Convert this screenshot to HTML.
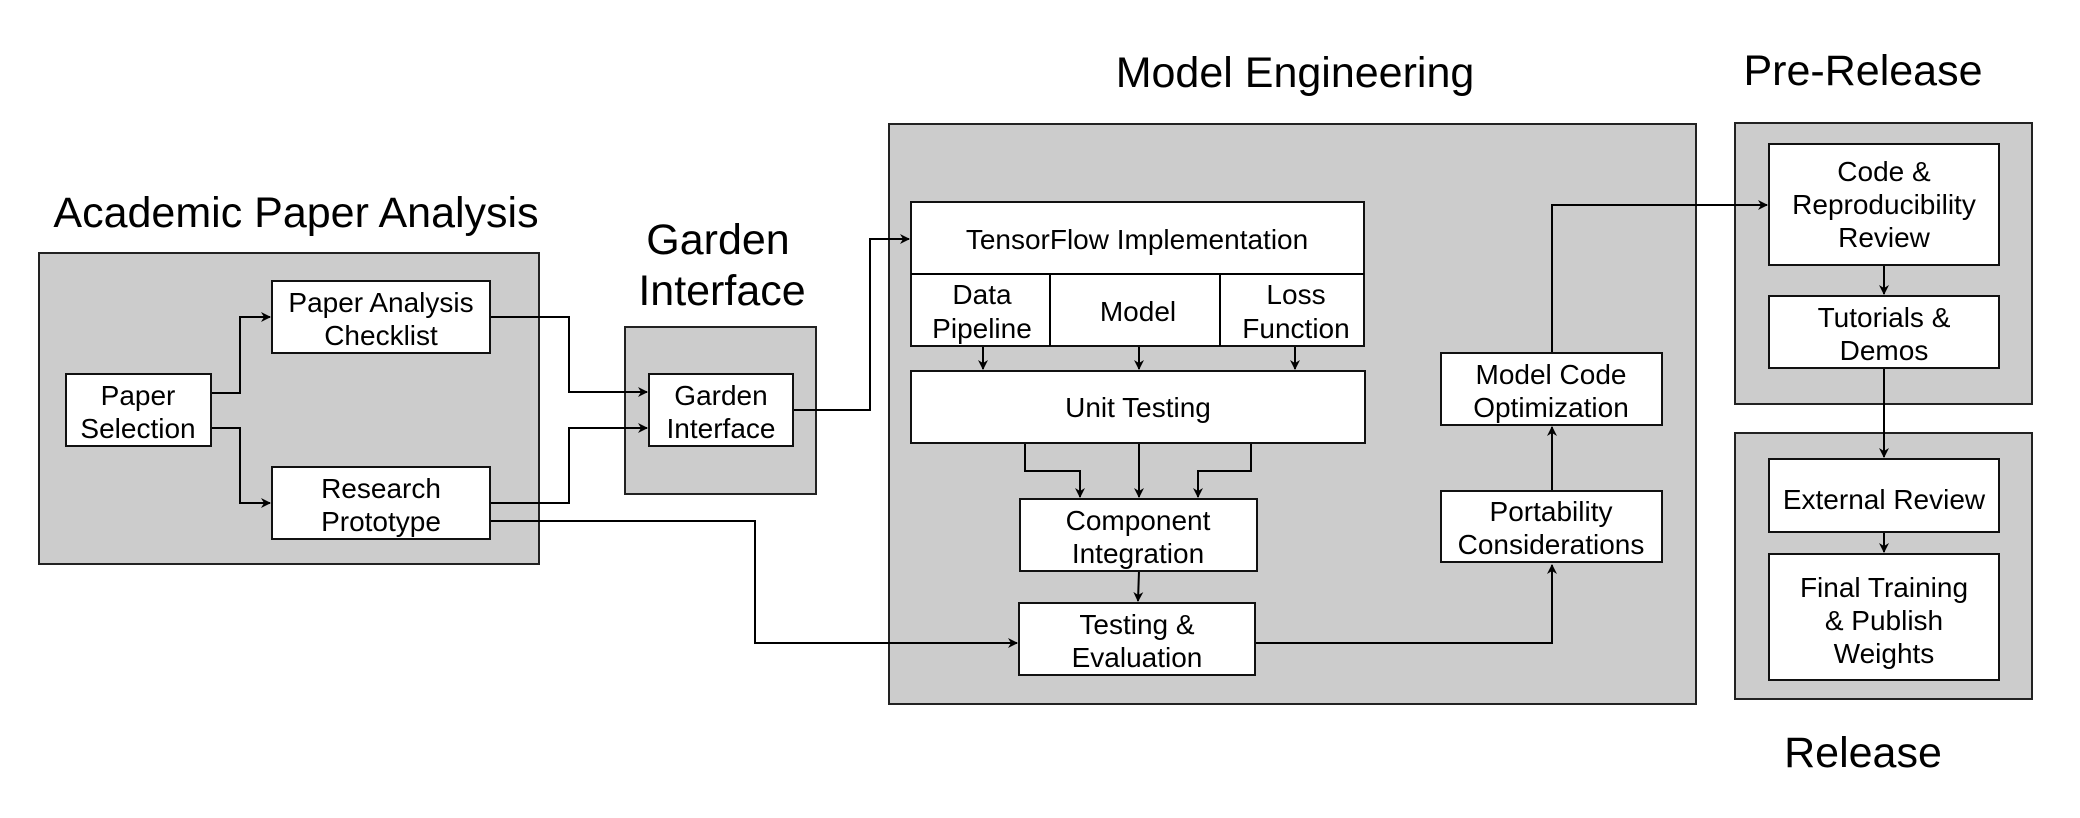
<!DOCTYPE html>
<html><head><meta charset="utf-8"><style>
html,body{margin:0;padding:0;background:#fff;}
svg{display:block;}
text{font-family:"Liberation Sans",Arial,sans-serif;fill:#000;}
.t{font-size:43px;text-anchor:middle;}
.n{font-size:28px;text-anchor:middle;}
.g{fill:#cccccc;stroke:#222;stroke-width:2;}
.b{fill:#fff;stroke:#111;stroke-width:2;}
.l{fill:none;stroke:#000;stroke-width:2;}
</style></head><body>
<svg width="2080" height="818" viewBox="0 0 2080 818" xmlns="http://www.w3.org/2000/svg">
<defs><marker id="a" markerWidth="10" markerHeight="10" refX="9" refY="5" orient="auto" markerUnits="userSpaceOnUse"><path d="M0,0 L10,5 L0,10 L3,5 z" fill="#000"/></marker></defs>

<text class="t" x="296" y="227">Academic Paper Analysis</text>
<text class="t" x="718" y="254">Garden</text>
<text class="t" x="722" y="305">Interface</text>
<text class="t" x="1295" y="87">Model Engineering</text>
<text class="t" x="1863" y="85">Pre-Release</text>
<text class="t" x="1863" y="767">Release</text>

<rect class="g" x="39" y="253" width="500" height="311"/>
<rect class="g" x="625" y="327" width="191" height="167"/>
<rect class="g" x="889" y="124" width="807" height="580"/>
<rect class="g" x="1735" y="123" width="297" height="281"/>
<rect class="g" x="1735" y="433" width="297" height="266"/>

<!-- connectors -->
<path class="l" d="M211,393 H240 V317 H270" marker-end="url(#a)"/>
<path class="l" d="M211,428 H240 V503 H270" marker-end="url(#a)"/>
<path class="l" d="M490,317 H569 V392 H647" marker-end="url(#a)"/>
<path class="l" d="M490,503 H569 V428 H647" marker-end="url(#a)"/>
<path class="l" d="M490,521 H755 V643 H1017" marker-end="url(#a)"/>
<path class="l" d="M793,410 H870 V239 H909" marker-end="url(#a)"/>
<path class="l" d="M983,346 V369" marker-end="url(#a)"/>
<path class="l" d="M1139,346 V369" marker-end="url(#a)"/>
<path class="l" d="M1295,346 V369" marker-end="url(#a)"/>
<path class="l" d="M1025,443 V471 H1080 V497" marker-end="url(#a)"/>
<path class="l" d="M1139,443 V497" marker-end="url(#a)"/>
<path class="l" d="M1251,443 V471 H1198 V497" marker-end="url(#a)"/>
<path class="l" d="M1139,571 L1138,601" marker-end="url(#a)"/>
<path class="l" d="M1255,643 H1552 V565" marker-end="url(#a)"/>
<path class="l" d="M1552,491 V427" marker-end="url(#a)"/>
<path class="l" d="M1552,353 V205 H1767" marker-end="url(#a)"/>
<path class="l" d="M1884,265 V294" marker-end="url(#a)"/>
<path class="l" d="M1884,368 V457" marker-end="url(#a)"/>
<path class="l" d="M1884,532 V552" marker-end="url(#a)"/>

<!-- nodes -->
<rect class="b" x="66" y="374" width="145" height="72"/>
<text class="n" x="138" y="405">Paper</text><text class="n" x="138" y="438">Selection</text>
<rect class="b" x="272" y="281" width="218" height="72"/>
<text class="n" x="381" y="312">Paper Analysis</text><text class="n" x="381" y="345">Checklist</text>
<rect class="b" x="272" y="467" width="218" height="72"/>
<text class="n" x="381" y="498">Research</text><text class="n" x="381" y="531">Prototype</text>
<rect class="b" x="649" y="374" width="144" height="72"/>
<text class="n" x="721" y="405">Garden</text><text class="n" x="721" y="438">Interface</text>

<rect class="b" x="911" y="202" width="453" height="144"/>
<line class="l" x1="911" y1="274" x2="1364" y2="274"/>
<line class="l" x1="1050" y1="274" x2="1050" y2="346"/>
<line class="l" x1="1220" y1="274" x2="1220" y2="346"/>
<text class="n" x="1137" y="249">TensorFlow Implementation</text>
<text class="n" x="982" y="304">Data</text><text class="n" x="982" y="338">Pipeline</text>
<text class="n" x="1138" y="321">Model</text>
<text class="n" x="1296" y="304">Loss</text><text class="n" x="1296" y="338">Function</text>

<rect class="b" x="911" y="371" width="454" height="72"/>
<text class="n" x="1138" y="417">Unit Testing</text>
<rect class="b" x="1020" y="499" width="237" height="72"/>
<text class="n" x="1138" y="530">Component</text><text class="n" x="1138" y="563">Integration</text>
<rect class="b" x="1019" y="603" width="236" height="72"/>
<text class="n" x="1137" y="634">Testing &amp;</text><text class="n" x="1137" y="667">Evaluation</text>
<rect class="b" x="1441" y="491" width="221" height="71"/>
<text class="n" x="1551" y="521">Portability</text><text class="n" x="1551" y="554">Considerations</text>
<rect class="b" x="1441" y="353" width="221" height="72"/>
<text class="n" x="1551" y="384">Model Code</text><text class="n" x="1551" y="417">Optimization</text>

<rect class="b" x="1769" y="144" width="230" height="121"/>
<text class="n" x="1884" y="181">Code &amp;</text><text class="n" x="1884" y="214">Reproducibility</text><text class="n" x="1884" y="247">Review</text>
<rect class="b" x="1769" y="296" width="230" height="72"/>
<text class="n" x="1884" y="327">Tutorials &amp;</text><text class="n" x="1884" y="360">Demos</text>
<rect class="b" x="1769" y="459" width="230" height="73"/>
<text class="n" x="1884" y="509">External Review</text>
<rect class="b" x="1769" y="554" width="230" height="126"/>
<text class="n" x="1884" y="597">Final Training</text><text class="n" x="1884" y="630">&amp; Publish</text><text class="n" x="1884" y="663">Weights</text>
</svg>
</body></html>
